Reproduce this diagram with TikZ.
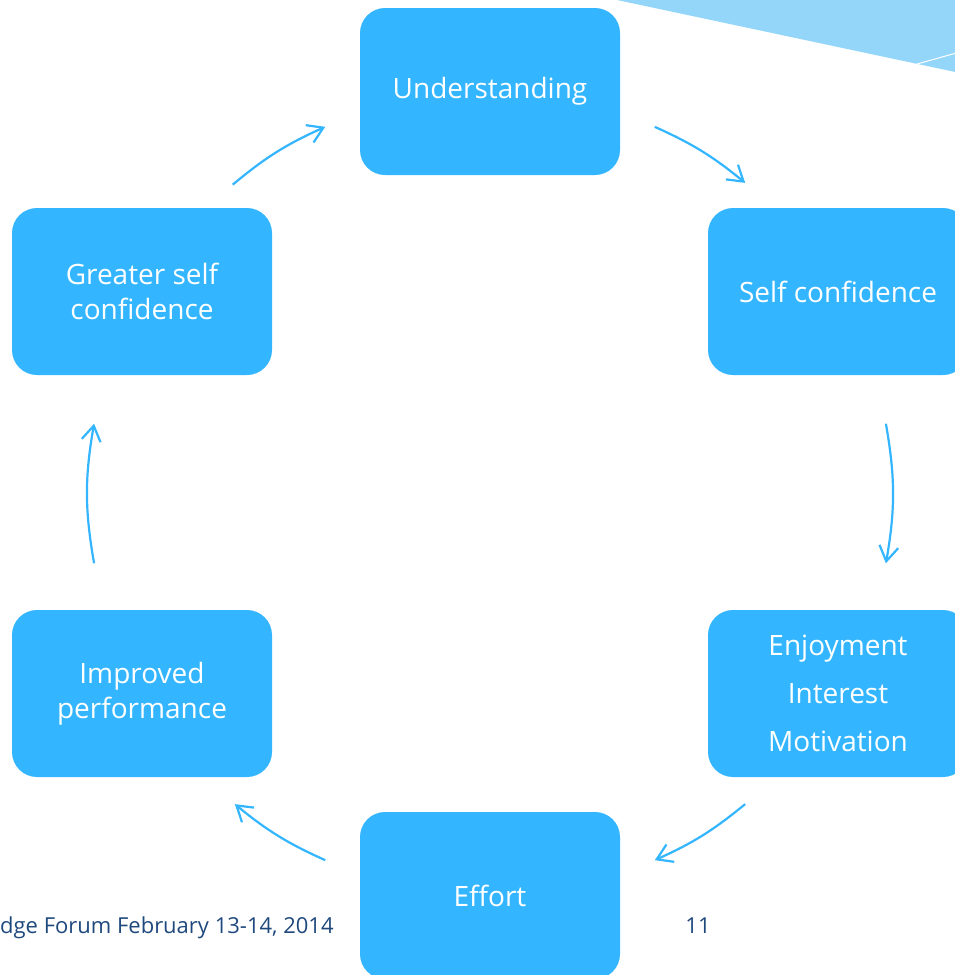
\documentclass[tikz,border=0pt]{standalone}
\usepackage{fontspec}
\setmainfont{Open Sans}
\usetikzlibrary{arrows.meta}
\definecolor{boxblue}{RGB}{51,182,255}
\definecolor{paleblue}{RGB}{148,214,250}
\definecolor{footblue}{RGB}{31,73,125}
\begin{document}
\begin{tikzpicture}[x=1pt,y=-1pt,
  stage/.style={fill=boxblue, rounded corners=25pt, minimum width=260pt,
    minimum height=167pt, text=white, align=center, inner sep=0pt,
    font=\fontsize{28}{35}\selectfont},
  cyc/.style={draw=boxblue, line width=2.2pt,
    -{Straight Barb[length=15pt,width=19pt,line width=2.2pt]}},
  foot/.style={text=footblue, inner sep=0pt, font=\fontsize{22}{26}\selectfont}]
  \useasboundingbox (0,0) rectangle (955,975);

  % corner decoration
  \fill[paleblue] (617,0) -- (960,0) -- (960,73) -- cycle;
  \draw[white, line width=1pt] (917,64) -- (960,52);

  % stages of the cycle
  \node[stage] (und) at (490,91.5) {Understanding};
  \node[stage] (sc)  at (838,291.5) {Self confidence};
  \node[stage, font=\fontsize{28}{48}\selectfont] (enj) at (838,693.5)
    {Enjoyment\\Interest\\Motivation};
  \node[stage] (eff) at (490,895.5) {Effort};
  \node[stage] (imp) at (142,693.5) {Improved\\performance};
  \node[stage] (gsc) at (142,291.5) {Greater self\\confidence};

  % arc end points on the common circle
  \coordinate (c) at (490,493.5);
  \begin{scope}[shift={(c)}]
    \coordinate (a1) at (-65.8:402);
    \coordinate (a2) at (-50.6:402);
    \coordinate (b1) at (-10:402);
    \coordinate (b2) at (10:402);
    \coordinate (d1) at (50.6:402);
    \coordinate (d2) at (65.8:402);
    \coordinate (e1) at (114.2:402);
    \coordinate (e2) at (129.4:402);
    \coordinate (f1) at (170:402);
    \coordinate (f2) at (190:402);
    \coordinate (g1) at (230.2:402);
    \coordinate (g2) at (245.8:402);
  \end{scope}

  \draw[cyc] (a1) to[bend left=7.6] (a2);
  \draw[cyc] (b1) to[bend left=10] (b2);
  \draw[cyc] (d1) to[bend left=7.6] (d2);
  \draw[cyc] (e1) to[bend left=7.6] (e2);
  \draw[cyc] (f1) to[bend left=10] (f2);
  \draw[cyc] (g1) to[bend left=7.8] (g2);

  % footer
  \node[foot, anchor=base west] (ft) at (0,933) {dge Forum February 13-14, 2014};
  \node[foot, anchor=base] (pg) at (698,933) {11};
\end{tikzpicture}
\end{document}
